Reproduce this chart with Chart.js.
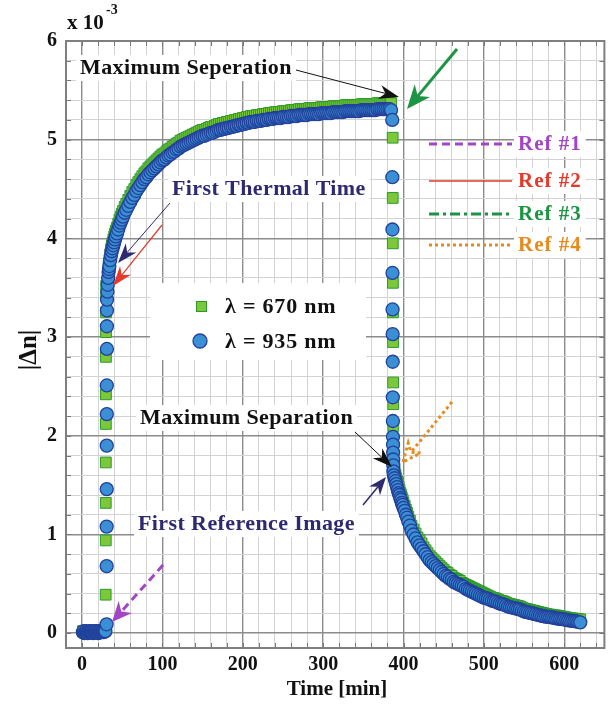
<!DOCTYPE html>
<html><head><meta charset="utf-8">
<script src="https://cdn.jsdelivr.net/npm/chart.js@4"></script>
<style>html,body{margin:0;padding:0;background:#fff}canvas{display:block}</style>
</head><body>
<canvas id="c" width="613" height="706" style="width:613px;height:706px"></canvas>
<script>
// ---------------- DATA ----------------
const seriesNames = ['λ = 670 nm', 'λ = 935 nm'];

const flatTime  = [1,2,3,4,5,6,7,8,9,10,11,12,13,14,15,16,17,18,19,20,21,22,23,24,25,26,27,28,29];
const flatBlue  = [0.01,0.02,0.00,0.01,0.02,0.01,0.00,0.01,0.02,0.01,0.01,0.02,0.01,0.00,0.01,0.02,0.01,0.02,0.01,0.00,0.01,0.02,0.01,0.02,0.01,0.02,0.01,0.02,0.02];
const flatGreen = [0.02,0.02,0.01,0.01,0.02,0.02,0.01,0.01,0.02,0.02,0.01,0.02,0.02,0.01,0.01,0.02,0.02,0.02,0.01,0.01,0.02,0.02,0.02,0.02,0.01,0.02,0.02,0.02,0.03];

const stepUpTimeBlue  = [30.5,30.6,30.6,30.7,30.7,30.8,30.8,30.9,30.9,31.0,31.1];
const stepUpBlue      = [0.09,0.68,1.08,1.46,1.90,2.22,2.51,2.88,3.11,3.27,3.38];
const stepUpTimeGreen = [29.4,29.5,29.5,29.6,29.6,29.7,29.7,29.8,29.8,29.9,30.0];
const stepUpGreen     = [0.39,0.94,1.32,1.73,2.12,2.42,2.80,3.05,3.25,3.42,3.52];

const riseTime = [
  31.6,32,32.5,33,33.5,34,35,36,37,38,
  39,40,41,42,43.5,45,46.5,48,49.5,51,
  53,55,57.5,60,62.5,65,67.5,70,72.5,75,
  77.5,80,82.5,85,87.5,90,92.5,95,97.5,100,
  102.5,105,107.5,110,112.5,115,117.5,120,122.5,125,
  127.5,130,132.5,135,137.5,140,142.5,145,147.5,150,
  152.5,155,157.5,160,162.5,165,167.5,170,172.5,175,
  177.5,180,182.5,185,187.5,190,192.5,195,197.5,200,
  202.5,205,207.5,210,212.5,215,217.5,220,222.5,225,
  227.5,230,232.5,235,237.5,240,242.5,245,247.5,250,
  252.5,255,257.5,260,262.5,265,267.5,270,272.5,275,
  277.5,280,282.5,285,287.5,290,292.5,295,297.5,300,
  302.5,305,307.5,310,312.5,315,317.5,320,322.5,325,
  327.5,330,332.5,335,337.5,340,342.5,345,347.5,350,
  352.5,355,357.5,360,362.5,365,367.5,370,372.5,375,
  377.5,380,382.5,384.5];
const riseBlue = [
  3.46,3.53,3.60,3.66,3.69,3.72,3.78,3.83,3.87,3.90,
  3.93,3.96,3.99,4.02,4.05,4.09,4.13,4.16,4.19,4.22,
  4.26,4.29,4.33,4.37,4.41,4.44,4.48,4.51,4.54,4.57,
  4.60,4.62,4.65,4.67,4.69,4.71,4.73,4.75,4.77,4.79,
  4.80,4.82,4.84,4.85,4.87,4.88,4.90,4.91,4.93,4.94,
  4.95,4.96,4.97,4.98,4.99,5.00,5.01,5.02,5.03,5.04,
  5.04,5.05,5.06,5.07,5.07,5.08,5.09,5.10,5.10,5.11,
  5.11,5.12,5.12,5.13,5.13,5.14,5.14,5.15,5.15,5.16,
  5.16,5.17,5.17,5.18,5.18,5.18,5.19,5.19,5.19,5.20,
  5.20,5.20,5.21,5.21,5.21,5.22,5.22,5.22,5.22,5.23,
  5.23,5.23,5.23,5.24,5.24,5.24,5.24,5.25,5.25,5.25,
  5.25,5.25,5.26,5.26,5.26,5.26,5.26,5.26,5.27,5.27,
  5.27,5.27,5.27,5.27,5.28,5.28,5.28,5.28,5.28,5.28,
  5.29,5.29,5.29,5.29,5.29,5.29,5.29,5.29,5.30,5.30,
  5.30,5.30,5.30,5.30,5.30,5.30,5.31,5.31,5.31,5.31,
  5.31,5.31,5.31,5.30];
const riseGreen = [
  3.55,3.60,3.66,3.72,3.75,3.78,3.84,3.89,3.93,3.96,
  3.99,4.02,4.05,4.08,4.11,4.15,4.19,4.22,4.25,4.28,
  4.32,4.35,4.39,4.43,4.47,4.50,4.54,4.57,4.60,4.63,
  4.66,4.68,4.71,4.73,4.75,4.77,4.79,4.81,4.83,4.85,
  4.86,4.88,4.90,4.91,4.93,4.94,4.96,4.97,4.99,5.00,
  5.01,5.02,5.03,5.04,5.05,5.06,5.07,5.08,5.09,5.10,
  5.10,5.11,5.12,5.13,5.13,5.14,5.15,5.16,5.16,5.17,
  5.17,5.18,5.18,5.19,5.19,5.20,5.20,5.21,5.21,5.22,
  5.22,5.23,5.23,5.24,5.24,5.24,5.25,5.25,5.25,5.26,
  5.26,5.26,5.27,5.27,5.27,5.28,5.28,5.28,5.28,5.29,
  5.29,5.29,5.29,5.30,5.30,5.30,5.30,5.31,5.31,5.31,
  5.31,5.31,5.32,5.32,5.32,5.32,5.32,5.32,5.33,5.33,
  5.33,5.33,5.33,5.33,5.34,5.34,5.34,5.34,5.34,5.34,
  5.35,5.35,5.35,5.35,5.35,5.35,5.35,5.35,5.36,5.36,
  5.36,5.36,5.36,5.36,5.36,5.36,5.37,5.37,5.37,5.37,
  5.37,5.37,5.37,5.37];

const stepDownTimeBlue  = [386.0,386.1,386.2,386.3,386.4,386.5,386.6,386.7,386.8,386.9,387.0,387.1,387.2,387.3,387.4];
const stepDownBlue      = [5.20,4.62,4.09,3.65,3.28,3.03,2.75,2.39,2.15,1.99,1.91,1.83,1.76,1.70,1.64];
const stepDownTimeGreen = [386.5,386.6,386.7,386.8,386.9,387.0,387.1,387.2,387.3,387.4,387.5];
const stepDownGreen     = [5.02,4.41,3.95,3.55,3.25,2.95,2.54,2.32,2.10,1.95,1.85];

const decayTime = [
  388,389,390,391,392,393,394,395,396,397,
  398,399,400,401.5,403,404.5,406,408,410,412.5,
  415,417.5,420,422.5,425,427.5,430,432.5,435,437.5,
  440,442.5,445,447.5,450,452.5,455,457.5,460,462.5,
  465,467.5,470,472.5,475,477.5,480,482.5,485,487.5,
  490,492.5,495,497.5,500,502.5,505,507.5,510,512.5,
  515,517.5,520,522.5,525,527.5,530,532.5,535,537.5,
  540,542.5,545,547.5,550,552.5,555,557.5,560,562.5,
  565,567.5,570,572.5,575,577.5,580,582.5,585,587.5,
  590,592.5,595,597.5,600,602.5,605,607.5,610,612.5,
  615,617.5,620];
const decayBlue = [
  1.60,1.57,1.54,1.51,1.48,1.45,1.42,1.40,1.37,1.35,
  1.32,1.30,1.27,1.24,1.20,1.17,1.13,1.09,1.04,1.00,
  0.96,0.92,0.89,0.86,0.83,0.80,0.77,0.74,0.72,0.70,
  0.68,0.66,0.64,0.62,0.60,0.58,0.57,0.55,0.54,0.52,
  0.51,0.50,0.49,0.48,0.47,0.45,0.44,0.43,0.42,0.41,
  0.40,0.39,0.38,0.37,0.36,0.355,0.35,0.34,0.33,0.325,
  0.32,0.31,0.30,0.295,0.29,0.28,0.27,0.265,0.26,0.255,
  0.25,0.245,0.24,0.23,0.22,0.215,0.21,0.205,0.20,0.195,
  0.19,0.185,0.18,0.175,0.17,0.168,0.165,0.162,0.16,0.155,
  0.15,0.148,0.145,0.142,0.14,0.135,0.13,0.128,0.125,0.122,
  0.12,0.115,0.11];
const decayGreen = [
  1.66,1.63,1.60,1.57,1.54,1.51,1.48,1.45,1.42,1.40,
  1.37,1.35,1.32,1.29,1.25,1.22,1.18,1.14,1.09,1.05,
  1.01,0.97,0.94,0.91,0.87,0.84,0.81,0.78,0.76,0.74,
  0.72,0.70,0.68,0.66,0.64,0.62,0.61,0.59,0.58,0.56,
  0.55,0.54,0.53,0.51,0.50,0.49,0.48,0.47,0.46,0.45,
  0.44,0.43,0.42,0.41,0.40,0.39,0.38,0.37,0.36,0.355,
  0.35,0.34,0.33,0.325,0.32,0.31,0.30,0.295,0.29,0.285,
  0.28,0.275,0.27,0.26,0.25,0.245,0.24,0.235,0.23,0.225,
  0.22,0.215,0.21,0.205,0.20,0.195,0.19,0.188,0.185,0.18,
  0.18,0.175,0.17,0.168,0.165,0.16,0.155,0.152,0.15,0.148,
  0.145,0.142,0.14];

const xTickLabels = [0,100,200,300,400,500,600];
const yTickLabels = [0,1,2,3,4,5,6];
const refLabels = ['Ref #1','Ref #2','Ref #3','Ref #4'];

// ---------------- BUILD ----------------
function pts(t, v){ const n = Math.min(t.length, v.length); const o = []; for (let i=0;i<n;i++) o.push({x:t[i], y:v[i]}); return o; }
const greenData = [].concat(pts(flatTime,flatGreen), pts(stepUpTimeGreen,stepUpGreen), pts(riseTime,riseGreen), pts(stepDownTimeGreen,stepDownGreen), pts(decayTime,decayGreen));
const blueData  = [].concat(pts(flatTime,flatBlue), pts(stepUpTimeBlue,stepUpBlue), pts(riseTime,riseBlue), pts(stepDownTimeBlue,stepDownBlue), pts(decayTime,decayBlue));

const xMinor = []; for (let v=-20; v<=640; v+=20) xMinor.push(v);
const yMinor = []; for (let i=0; i<=30; i++) yMinor.push(Math.round(i*2)/10);

const SERIF = '"Liberation Serif", "Times New Roman", serif';
const BLUE_FILL = '#3b8fd4', BLUE_EDGE = '#22409a';
const GREEN_FILL = '#7cc83a', GREEN_EDGE = '#2b9a2e';
const NAVY = '#2e2a70';

function drawLabel(ctx, text, x, y, font, color, bg, spacing){
  ctx.save();
  ctx.font = font; ctx.textBaseline = 'middle'; ctx.textAlign = 'left';
  if (spacing) ctx.letterSpacing = spacing;
  const w = ctx.measureText(text).width;
  if (bg !== false){ ctx.fillStyle = '#fff'; ctx.fillRect(x-4, y-13, w+8, 26); }
  ctx.fillStyle = color; ctx.fillText(text, x, y);
  ctx.restore();
}
function arrow(ctx, x1, y1, x2, y2, o){
  const ang = Math.atan2(y2-y1, x2-x1), c = Math.cos(ang), s = Math.sin(ang);
  const L = o.head || 16, W = o.half || 6;
  const bx = x2 - L*c, by = y2 - L*s;
  const nx = x2 - L*0.7*c, ny = y2 - L*0.7*s;
  const px = -s, py = c;
  ctx.save();
  ctx.strokeStyle = o.color; ctx.fillStyle = o.color; ctx.lineWidth = o.width || 1;
  ctx.setLineDash(o.dash || []);
  ctx.beginPath(); ctx.moveTo(x1,y1); ctx.lineTo(nx,ny); ctx.stroke();
  ctx.beginPath(); ctx.moveTo(x2,y2); ctx.lineTo(bx+px*W, by+py*W); ctx.lineTo(nx,ny); ctx.lineTo(bx-px*W, by-py*W); ctx.closePath();
  if (o.openHead){ ctx.stroke(); } else { ctx.setLineDash([]); ctx.fill(); }
  ctx.restore();
}

const decor = {
  id: 'decor',
  afterDraw(chart){
    const ctx = chart.ctx, a = chart.chartArea;
    const xs = chart.scales.x, ys = chart.scales.y;
    ctx.save();
    // inner tick marks
    ctx.strokeStyle = '#777'; ctx.lineWidth = 1;
    ctx.beginPath();
    xMinor.forEach(v => { const px = Math.round(xs.getPixelForValue(v))+0.5; if (px<=a.left+1||px>=a.right-1) return;
      ctx.moveTo(px, a.bottom); ctx.lineTo(px, a.bottom-5); ctx.moveTo(px, a.top); ctx.lineTo(px, a.top+5); });
    yMinor.forEach(v => { const py = Math.round(ys.getPixelForValue(v))+0.5; if (py<=a.top+1||py>=a.bottom-1) return;
      ctx.moveTo(a.left, py); ctx.lineTo(a.left+5, py); ctx.moveTo(a.right, py); ctx.lineTo(a.right-5, py); });
    ctx.stroke();
    // box
    ctx.strokeStyle = '#7f7f7f'; ctx.lineWidth = 2;
    ctx.strokeRect(a.left, a.top, a.right-a.left, a.bottom-a.top);

    // legend
    ctx.fillStyle = '#fff'; ctx.fillRect(150, 283, 216, 77);
    ctx.fillStyle = GREEN_FILL; ctx.strokeStyle = GREEN_EDGE; ctx.lineWidth = 1;
    ctx.fillRect(196, 301, 11, 11); ctx.strokeRect(196.5, 301.5, 10, 10);
    ctx.beginPath(); ctx.arc(200, 341, 7, 0, Math.PI*2); ctx.fillStyle = BLUE_FILL; ctx.fill();
    ctx.strokeStyle = BLUE_EDGE; ctx.lineWidth = 1.3; ctx.stroke();
    const lf = 'bold 22px ' + SERIF;
    drawLabel(ctx, seriesNames[0], 225, 307, lf, '#111', false, '0.8px');
    drawLabel(ctx, seriesNames[1], 225, 342, lf, '#111', false, '0.8px');

    // annotation texts
    const af = 'bold 22px ' + SERIF;
    drawLabel(ctx, 'Maximum Seperation', 80, 68, af, '#111', true, '0.4px');
    drawLabel(ctx, 'First Thermal Time', 172, 189, af, NAVY, true, '0.4px');
    drawLabel(ctx, 'Maximum Separation', 140, 418, af, '#111', true, '0.4px');
    drawLabel(ctx, 'First Reference Image', 138, 524, af, NAVY, true, '0.4px');

    // reference lines
    const refColors = ['#a445c4', '#e5392b', '#1c9443', '#e8891c'];
    const refY = [144, 181, 214, 245];
    const refStyle = [
      {w:3, dash:[8,5]}, {w:1.6, dash:[]}, {w:3, dash:[10,4,3,4]}, {w:3, dash:[3,3]}
    ];
    refY.forEach((y,i) => {
      ctx.save(); ctx.strokeStyle = refColors[i]; ctx.lineWidth = refStyle[i].w; ctx.setLineDash(refStyle[i].dash);
      ctx.beginPath(); ctx.moveTo(429, y); ctx.lineTo(512, y); ctx.stroke(); ctx.restore();
      ctx.save(); ctx.font = 'bold 21px ' + SERIF; ctx.letterSpacing = '1px';
      const w = ctx.measureText(refLabels[i]).width;
      ctx.fillStyle = '#fff'; ctx.fillRect(514, y-13, w+8, 26);
      ctx.fillStyle = refColors[i]; ctx.textBaseline = 'middle'; ctx.fillText(refLabels[i], 518, y+1);
      ctx.restore();
    });

    // arrows
    arrow(ctx, 296, 70, 399, 97, {color:'#111', width:1, head:20, half:7});
    arrow(ctx, 457, 49, 407, 109, {color:'#1c9443', width:3, head:24, half:10});
    arrow(ctx, 170, 203, 118, 263, {color:NAVY, width:1, head:20, half:7});
    arrow(ctx, 162, 225, 113, 286, {color:'#e5392b', width:1.2, head:20, half:7});
    arrow(ctx, 355, 432, 392, 467, {color:'#111', width:1, head:20, half:7});
    arrow(ctx, 363, 505, 386, 477, {color:NAVY, width:1.5, head:18, half:7});
    arrow(ctx, 452, 402, 403, 462, {color:'#e8891c', width:3, dash:[3,3], head:18, half:8, openHead:true});
    arrow(ctx, 163, 565, 112, 622, {color:'#a445c4', width:3, dash:[8,5], head:20, half:9});

    // titles
    ctx.fillStyle = '#111'; ctx.textBaseline = 'middle';
    ctx.font = 'bold 21px ' + SERIF; ctx.textAlign = 'center';
    ctx.fillText('Time [min]', 337, 690);
    ctx.save(); ctx.translate(30, 350); ctx.rotate(-Math.PI/2);
    ctx.font = 'bold 25px ' + SERIF; ctx.fillText('|Δn|', 0, 0); ctx.restore();
    ctx.textAlign = 'left';
    ctx.font = 'bold 21px ' + SERIF; ctx.fillText('x 10', 67, 24);
    ctx.font = 'bold 14px ' + SERIF; ctx.fillText('-3', 106, 10);
    ctx.restore();
  }
};

new Chart(document.getElementById('c'), {
  type: 'scatter',
  data: {
    datasets: [
      { label: seriesNames[1], data: blueData, order: 1, pointStyle: 'circle', pointRadius: 6.5,
        backgroundColor: BLUE_FILL, borderColor: BLUE_EDGE, borderWidth: 1.3, showLine: false },
      { label: seriesNames[0], data: greenData, order: 2, pointStyle: 'rect', pointRadius: 7.6,
        backgroundColor: GREEN_FILL, borderColor: GREEN_EDGE, borderWidth: 1, showLine: false }
    ]
  },
  options: {
    responsive: false, animation: false, devicePixelRatio: 1,
    layout: { padding: { left: 0, right: 5, top: 41, bottom: 0 } },
    plugins: { legend: { display: false }, tooltip: { enabled: false } },
    scales: {
      x: {
        type: 'linear', min: -20, max: 650,
        afterBuildTicks: s => { s.ticks = xMinor.map(v => ({ value: v })); },
        afterFit: s => { s.height = 58; },
        ticks: { autoSkip: false, maxRotation: 0, padding: 5, color: '#111',
          font: { family: SERIF, weight: 'bold', size: 20 },
          callback: v => xTickLabels.includes(v) ? String(v) : '' },
        grid: { drawTicks: false,
          color: c => (c.tick && c.tick.value % 100 === 0) ? '#8c8c8c' : '#d3d3d3',
          lineWidth: c => (c.tick && c.tick.value % 100 === 0) ? 1.4 : 1 },
        border: { display: false }
      },
      y: {
        type: 'linear', min: -0.15, max: 6,
        afterBuildTicks: s => { s.ticks = yMinor.map(v => ({ value: v })); },
        afterFit: s => { s.width = 66; },
        ticks: { autoSkip: false, padding: 9, color: '#111',
          font: { family: SERIF, weight: 'bold', size: 20 },
          callback: v => yTickLabels.includes(v) ? String(v) : '' },
        grid: { drawTicks: false,
          color: c => (c.tick && Number.isInteger(c.tick.value)) ? '#8c8c8c' : '#d3d3d3',
          lineWidth: c => (c.tick && Number.isInteger(c.tick.value)) ? 1.4 : 1 },
        border: { display: false }
      }
    }
  },
  plugins: [decor]
});
</script>
</body></html>
